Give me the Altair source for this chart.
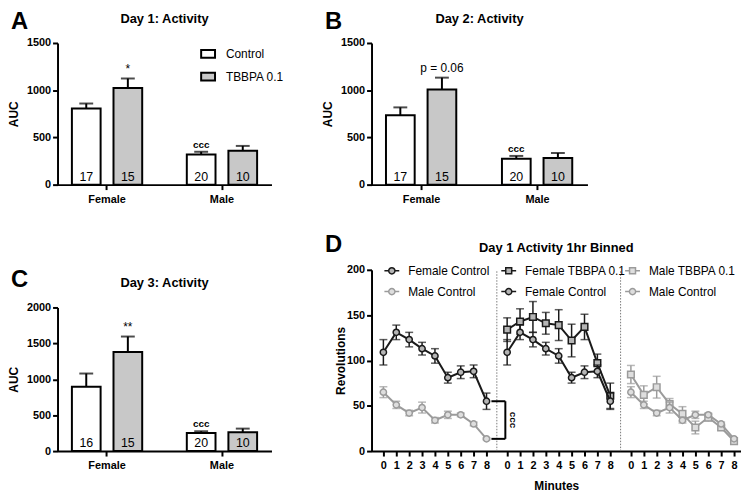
import altair as alt
import pandas as pd

FONT = "Liberation Sans"
BLACK = "#1a1a1a"
GRAY = "#9b9b9b"
BAR_GRAY = "#c8c8c8"

# ---------------- bar panels (A, B, C) ----------------
sexes = ["Female", "Male"]
treatments = ["Control", "TBBPA 0.1"]
# order of values: Female-Control, Female-TBBPA, Male-Control, Male-TBBPA
day1_mean = [807, 1023, 320, 358]
day1_sem = [52, 101, 28, 52]
day1_n = [17, 15, 20, 10]
day1_sig = ["", "*", "", ""]
day1_ccc = ["", "", "ccc", ""]

day2_mean = [734, 1007, 273, 283]
day2_sem = [84, 126, 31, 52]
day2_n = [17, 15, 20, 10]
day2_sig = ["", "p = 0.06", "", ""]
day2_ccc = ["", "", "ccc", ""]

day3_mean = [897, 1379, 252, 262]
day3_sem = [183, 216, 24, 51]
day3_n = [16, 15, 20, 10]
day3_sig = ["", "**", "", ""]
day3_ccc = ["", "", "ccc", ""]

auc_ticks_15 = [0, 500, 1000, 1500]
auc_ticks_20 = [0, 500, 1000, 1500, 2000]

# ---------------- binned activity (D) ----------------
minutes = list(range(9))
fc_mean = [109, 131, 123, 113, 105, 81, 87, 88, 55]
fc_sem = [14, 8, 8, 7, 8, 6, 7, 7, 9]
mc_mean = [65, 51, 42, 48, 34, 40, 40, 30, 13.5]
mc_sem = [6, 4, 3, 6, 3, 4, 2, 2, 1]
ft_mean = [134, 143, 148, 141, 139, 122, 137, 97, 61]
ft_sem = [13, 14, 17, 12, 17, 18, 14, 10, 14]
mt_mean = [84.5, 62, 70.5, 52, 41, 26, 37, 26, 11]
mt_sem = [10, 10, 12, 6, 8, 7, 4, 3, 3]
rev_ticks = [0, 50, 100, 150, 200]

series = {
    "Female Control": (fc_mean, fc_sem),
    "Male Control": (mc_mean, mc_sem),
    "Female TBBPA 0.1": (ft_mean, ft_sem),
    "Male TBBPA 0.1": (mt_mean, mt_sem),
}
segments = [
    ["Female Control", "Male Control"],
    ["Female TBBPA 0.1", "Female Control"],
    ["Male TBBPA 0.1", "Male Control"],
]

stroke_of = {"Female Control": BLACK, "Female TBBPA 0.1": BLACK,
             "Male Control": GRAY, "Male TBBPA 0.1": GRAY}
fill_of = {"Female Control": "#b5b5b5", "Female TBBPA 0.1": "#b5b5b5",
           "Male Control": "#dedede", "Male TBBPA 0.1": "#dedede"}
marker_of = {"Female Control": "circle", "Male Control": "circle",
             "Female TBBPA 0.1": "square", "Male TBBPA 0.1": "square"}
legend_path = {
    "circle": "M-1,0H-0.42M0.42,0H1M0.42,0A0.42,0.42 0 1,1 -0.42,0A0.42,0.42 0 1,1 0.42,0Z",
    "square": "M-1,0H-0.4M0.4,0H1M-0.4,-0.4H0.4V0.4H-0.4Z",
}


def letter_layer(letter, y):
    return alt.Chart(pd.DataFrame({"t": [letter]})).mark_text(
        fontSize=24, fontWeight="bold", align="left", baseline="top", color="black"
    ).encode(x=alt.value(-47), y=alt.value(y), text="t:N")


def bar_panel(title, letter, mean, sem, n, sig, ccc, ymax, yticks, width, height,
              yrange=None, show_legend=False, title_dy=0, letter_y=-35):
    df = pd.DataFrame({
        "sex": [s for s in sexes for _ in treatments],
        "trt": treatments * len(sexes),
        "mean": mean,
        "sem": sem,
        "n": [str(v) for v in n],
        "sig": sig,
        "ccc": ccc,
    })
    df["top"] = df["mean"] + df["sem"]
    if yrange is None:
        ysc = alt.Scale(domain=[0, ymax], nice=False)
    else:
        ysc = alt.Scale(domain=[0, ymax], nice=False, range=yrange)
    yaxis = alt.Axis(values=yticks, title="AUC", titleX=-37, labelPadding=2, format="d")
    x = alt.X("sex:N", scale=alt.Scale(domain=sexes, paddingInner=0.276, paddingOuter=0.069),
              axis=alt.Axis(title=None, labelAngle=0, labelPadding=4))
    xo = alt.XOffset("trt:N", scale=alt.Scale(domain=treatments, paddingInner=0.31, paddingOuter=0.155))
    base = alt.Chart(df).encode(x=x, xOffset=xo)
    if show_legend:
        legend = alt.Legend(title=None, orient="none", legendX=144, legendY=3,
                            symbolType="M-1,-0.55H1V0.55H-1Z", symbolSize=196,
                            symbolStrokeColor="black", symbolStrokeWidth=2,
                            labelFontSize=12, labelOffset=10, rowPadding=7, padding=0)
    else:
        legend = None
    bars = base.mark_bar(stroke="black", strokeWidth=2).encode(
        y=alt.Y("mean:Q", scale=ysc, axis=yaxis),
        fill=alt.Fill("trt:N", scale=alt.Scale(domain=treatments, range=["white", BAR_GRAY]), legend=legend),
    )
    err = base.mark_rule(color="black", strokeWidth=2).encode(
        y=alt.Y("mean:Q", axis=yaxis), y2="top:Q")
    cap = base.mark_tick(color="black", thickness=2, size=14, orient="horizontal").encode(
        y=alt.Y("top:Q", axis=yaxis))
    nlab = base.mark_text(fontSize=12.5, baseline="alphabetic", dy=-4, color="black").encode(
        y=alt.datum(0), text="n:N")
    sigt = base.mark_text(fontSize=12, baseline="alphabetic", dy=-6, color="black").encode(
        y=alt.Y("top:Q", axis=yaxis), text="sig:N")
    ccct = base.mark_text(fontSize=10, fontWeight="bold", baseline="alphabetic", dy=-4, color="black").encode(
        y=alt.Y("top:Q", axis=yaxis), text="ccc:N")
    return alt.layer(bars, err, cap, nlab, sigt, ccct, letter_layer(letter, letter_y)).properties(
        width=width, height=height,
        title=alt.TitleParams(title, frame="group", offset=15, dy=title_dy, baseline="alphabetic"),
    )


A = bar_panel("Day 1: Activity", "A", day1_mean, day1_sem, day1_n, day1_sig, day1_ccc,
              1500, auc_ticks_15, 216, 143, show_legend=True, title_dy=41, letter_y=-33)
B = bar_panel("Day 2: Activity", "B", day2_mean, day2_sem, day2_n, day2_sig, day2_ccc,
              1500, auc_ticks_15, 218, 143, title_dy=41, letter_y=-33)
C = bar_panel("Day 3: Activity", "C", day3_mean, day3_sem, day3_n, day3_sig, day3_ccc,
              2000, auc_ticks_20, 216, 183, yrange=[183, 38], title_dy=47, letter_y=-2)

# ---------------- panel D ----------------
SEG = 9.6  # spacing between the starts of the three blocks (minute units)
all_pos = [k * SEG + m for k in range(3) for m in minutes]
xsc = alt.Scale(domain=[-0.92, 2 * SEG + 8.54], nice=False, zero=False)
xaxis = alt.Axis(values=all_pos, title="Minutes", labelPadding=4, titlePadding=10,
                 labelExpr="round(datum.value - 9.6 * floor((datum.value + 0.5) / 9.6))")
ysc_d = alt.Scale(domain=[0, 200], nice=False)
yaxis_d = alt.Axis(values=rev_ticks, title="Revolutions", titleX=-24.5, labelPadding=2)
X = alt.X("pos:Q", scale=xsc, axis=xaxis)


def seg_layer(k, names, legend_x):
    layers = []
    frames = []
    for name in names:
        m, e = series[name]
        df = pd.DataFrame({
            "series": name,
            "pos": [k * SEG + i for i in minutes],
            "mean": m,
            "lo": [a - b for a, b in zip(m, e)],
            "hi": [a + b for a, b in zip(m, e)],
        })
        frames.append(df)
        c = stroke_of[name]
        base = alt.Chart(df).encode(x=X)
        layers.append(base.mark_rule(strokeWidth=1.5, color=c).encode(
            y=alt.Y("lo:Q", scale=ysc_d, axis=yaxis_d), y2="hi:Q"))
        layers.append(base.mark_tick(orient="horizontal", size=8, thickness=1.5, color=c).encode(
            y=alt.Y("hi:Q", axis=yaxis_d)))
        layers.append(base.mark_tick(orient="horizontal", size=8, thickness=1.5, color=c).encode(
            y=alt.Y("lo:Q", axis=yaxis_d)))
        layers.append(base.mark_line(strokeWidth=2, color=c).encode(y=alt.Y("mean:Q", axis=yaxis_d)))
        shp = marker_of[name]
        layers.append(base.mark_point(shape=shp, size=40 if shp == "circle" else 45, strokeWidth=1.5,
                                      opacity=1, filled=False, stroke=c, fill=fill_of[name]).encode(
            y=alt.Y("mean:Q", axis=yaxis_d)))
    leg = alt.Legend(title=None, orient="none", legendX=legend_x, legendY=-7.5, symbolSize=225,
                     labelFontSize=12, labelOffset=8, rowPadding=6, padding=0,
                     symbolStrokeWidth=1.5, labelColor="black", labelFontWeight="normal")
    carrier = alt.Chart(pd.concat(frames)).transform_filter("false").mark_point(
        filled=False, strokeWidth=1.5, opacity=1).encode(
        x=X, y=alt.Y("mean:Q", axis=yaxis_d),
        color=alt.Color("series:N", scale=alt.Scale(domain=names, range=[stroke_of[s] for s in names]), legend=leg),
        fill=alt.Fill("series:N", scale=alt.Scale(domain=names, range=[fill_of[s] for s in names]), legend=leg),
        shape=alt.Shape("series:N", scale=alt.Scale(domain=names, range=[legend_path[marker_of[s]] for s in names]), legend=leg),
    )
    layers.append(carrier)
    return alt.layer(*layers)


seps = pd.DataFrame({"x": [k * SEG - 0.8 for k in (1, 2)]})
sep_layer = alt.Chart(seps).mark_rule(strokeDash=[1.5, 1.5], color="#7a7a7a", strokeWidth=1).encode(
    x=alt.X("x:Q", scale=xsc, axis=xaxis), y=alt.datum(0), y2=alt.datum(200))

b_top, b_bot = fc_mean[8], mc_mean[8]
bx1, bx2 = 8 + 0.38, 8 + 1.46
bracket = pd.DataFrame({"x": [bx1, bx1, bx2], "x2": [bx2, bx2, bx2],
                        "y": [b_top, b_bot, b_bot], "y2": [b_top, b_bot, b_top]})
bracket_layer = alt.Chart(bracket).mark_rule(color="black", strokeWidth=2).encode(
    x=alt.X("x:Q", scale=xsc, axis=xaxis), x2="x2:Q",
    y=alt.Y("y:Q", scale=ysc_d, axis=yaxis_d), y2="y2:Q")
ccc_d = alt.Chart(pd.DataFrame({"x": [bx2 + 0.6], "y": [(b_top + b_bot) / 2], "t": ["ccc"]})).mark_text(
    fontSize=10, fontWeight="bold", angle=90, color="black").encode(
    x=alt.X("x:Q", scale=xsc, axis=xaxis), y=alt.Y("y:Q", axis=yaxis_d), text="t:N")

D = alt.layer(
    sep_layer,
    seg_layer(0, segments[0], 12),
    seg_layer(1, segments[1], 130),
    seg_layer(2, segments[2], 255),
    bracket_layer, ccc_d, letter_layer("D", -37),
).resolve_scale(color="independent", fill="independent", shape="independent").properties(
    width=373, height=183,
    title=alt.TitleParams("Day 1 Activity 1hr Binned", frame="group", offset=15, dy=47, baseline="alphabetic"),
)

chart = alt.concat(
    A, B, C, D, columns=2, spacing={"row": 86, "column": 101}, bounds="flush", align="each"
).properties(padding=0).configure_view(stroke=None).configure_axis(
    labelFont=FONT, titleFont=FONT, labelFontWeight="bold", titleFontWeight="bold",
    labelFontSize=11, titleFontSize=12, labelColor="black", titleColor="black",
    domainColor="black", tickColor="black", domainWidth=2, tickWidth=2, tickSize=5, grid=False,
).configure_title(font=FONT, fontSize=13, fontWeight="bold", color="black").configure_legend(
    labelFont=FONT
).configure_text(font=FONT)

chart.save("out.html", embed_options={"renderer": "svg", "actions": False})
